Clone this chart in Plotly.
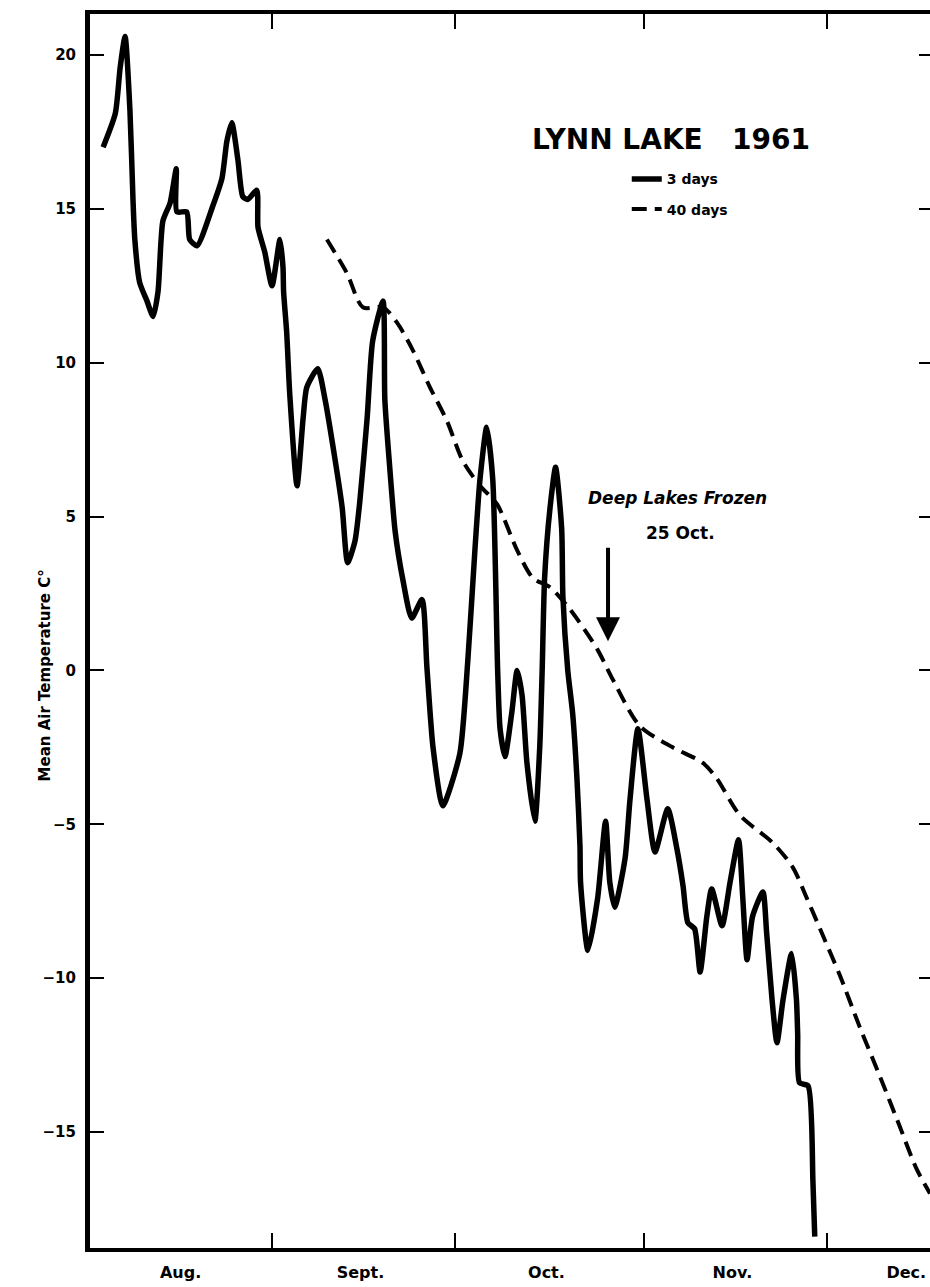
import plotly.graph_objects as go

# Days since 1 Aug 1961 (day 0 = Aug 1) and mean air temperature (deg C)
days_3 = [3.3, 5.3, 6.1, 6.9, 7.7, 8.2, 8.5, 9.3, 10.5, 11.5, 12.3, 13.1, 14.3, 15.3, 15.4,
          17.0, 17.5, 18.7, 21.3, 22.8, 23.6, 24.4, 25.4, 26.2, 27.0, 28.5, 28.7, 29.8, 31.0,
          32.3, 32.8, 32.9, 33.4, 33.9, 35.1, 36.1, 36.7, 38.5, 39.7, 41.3, 42.5, 43.4, 44.6,
          45.4, 46.6, 47.5, 49.2, 49.5, 50.3, 51.2, 52.5, 53.9, 55.6, 56.4, 57.4, 59.0, 61.8,
          63.1, 64.3, 65.1, 66.2, 67.2, 68.0, 68.4, 69.2, 70.3, 71.2, 72.0, 72.8, 74.1, 74.9,
          75.3, 75.7, 76.6, 77.5, 78.5, 78.7, 79.5, 80.3, 81.0, 81.5, 81.6, 82.8, 84.4, 85.7,
          86.4, 87.2, 88.9, 89.7, 91.0, 92.5, 93.8, 95.9, 97.4, 98.4, 99.2, 100.3, 101.2, 102.3,
          103.1, 104.8, 106.1, 107.5, 108.2, 108.9, 109.8, 111.5, 112.1, 113.0, 113.8, 114.8,
          116.2, 117.0, 117.2, 117.5, 118.9, 119.7, 120.0]
temp_3 = [17.0, 18.1, 19.6, 20.6, 18.2, 15.3, 14.0, 12.6, 12.0, 11.5, 12.3, 14.6, 15.2, 16.3, 14.9,
          14.9, 14.0, 13.8, 15.1, 16.0, 17.2, 17.8, 16.6, 15.4, 15.3, 15.6, 14.4, 13.6, 12.5,
          14.0, 13.1, 12.3, 11.0, 9.0, 6.0, 8.2, 9.2, 9.8, 8.8, 6.9, 5.3, 3.5, 4.2,
          5.5, 8.2, 10.7, 12.0, 8.8, 6.6, 4.5, 2.9, 1.7, 2.3, 0.1, -2.5, -4.4, -2.7,
          0.3, 4.0, 6.2, 7.9, 6.2, 0.0, -1.9, -2.8, -1.4, 0.0, -0.8, -3.0, -4.9, -2.5,
          0.0, 3.0, 5.3, 6.6, 4.6, 2.4, 0.0, -1.4, -3.5, -5.7, -6.9, -9.1, -7.4, -4.9,
          -6.9, -7.7, -6.1, -4.2, -1.9, -4.2, -5.9, -4.5, -5.8, -7.0, -8.2, -8.4, -9.8, -8.0,
          -7.1, -8.3, -6.9, -5.5, -7.4, -9.4, -8.0, -7.2, -8.5, -10.7, -12.1, -10.7,
          -9.2, -10.7, -11.8, -13.4, -13.5, -16.6, -18.4]

days_40 = [40.0, 43.3, 45.9, 49.2, 51.5, 54.1, 56.9, 59.7, 62.3, 65.1, 67.9, 71.2, 73.8, 76.6,
           79.8, 84.3, 86.9, 91.3, 96.7, 101.6, 103.9, 107.7, 113.1, 116.4, 118.7, 121.3,
           124.1, 127.4, 130.7, 133.9, 136.7, 138.9]
temp_40 = [14.0, 12.9, 11.8, 11.8, 11.3, 10.4, 9.2, 8.1, 6.8, 6.0, 5.4, 3.9, 3.0, 2.7,
           2.0, 0.7, -0.3, -1.8, -2.5, -3.0, -3.5, -4.7, -5.6, -6.4, -7.4, -8.6,
           -9.9, -11.6, -13.2, -14.8, -16.2, -17.0]

month_bounds = [31, 61, 92, 122]
month_mid = [16, 45.5, 76, 106.5, 135]
month_labels = ["Aug.", "Sept.", "Oct.", "Nov.", "Dec."]
y_ticks = [20, 15, 10, 5, 0, -5, -10, -15]
y_tick_labels = ["20", "15", "10", "5", "0", "\u22125", "\u221210", "\u221215"]

freeze_day = 86.1   # 25 Oct.
freeze_temp = 0.95

XR = [1.15, 138.9]
YR = [-18.77, 21.33]
FONT = "DejaVu Sans"

fig = go.Figure()
fig.add_trace(go.Scatter(x=days_3, y=temp_3, mode="lines", name="3 days",
                         legendgroup="a",
                         line=dict(color="black", width=5.5, shape="spline", smoothing=0.6)))
fig.add_trace(go.Scatter(x=days_40, y=temp_40, mode="lines", name="40 days",
                         legendgroup="b",
                         line=dict(color="black", width=4, dash="15px,8px",
                                   shape="spline", smoothing=0.8)))
# invisible traces carrying the month-label axis and the right-hand tick axis
fig.add_trace(go.Scatter(x=[XR[0]], y=[0], xaxis="x2", mode="markers",
                         marker=dict(opacity=0), showlegend=False, hoverinfo="skip"))
fig.add_trace(go.Scatter(x=[XR[0]], y=[0], yaxis="y2", mode="markers",
                         marker=dict(opacity=0), showlegend=False, hoverinfo="skip"))

fig.update_layout(
    width=930, height=1287,
    margin=dict(l=90, r=0, t=14, b=39),
    paper_bgcolor="white", plot_bgcolor="white",
    font=dict(family=FONT, color="black"),
    showlegend=True,
    legend=dict(x=0.639, y=0.879, xanchor="left", yanchor="top",
                bgcolor="rgba(0,0,0,0)", tracegroupgap=9,
                font=dict(size=14, family=FONT, weight="bold")),
    xaxis=dict(range=XR, tickvals=month_bounds, ticks="inside", ticklen=15, tickwidth=2,
               tickcolor="black", showticklabels=False, showline=True, linewidth=4,
               linecolor="black", mirror="ticks", showgrid=False, zeroline=False),
    xaxis2=dict(range=XR, overlaying="x", anchor="y", side="bottom",
                tickvals=month_mid, ticktext=month_labels, ticks="", showline=False,
                showgrid=False, zeroline=False, ticklabelstandoff=13,
                tickfont=dict(size=16, family=FONT, weight="bold")),
    yaxis=dict(range=YR, tickvals=y_ticks, ticktext=y_tick_labels, ticks="inside",
               ticklen=14, tickwidth=2, tickcolor="black", showline=True, linewidth=5,
               linecolor="black", showgrid=False, zeroline=False, ticklabelstandoff=6,
               tickfont=dict(size=15, family=FONT, weight="bold")),
    yaxis2=dict(range=YR, overlaying="y", side="right", anchor="x", tickvals=y_ticks,
                ticks="inside", ticklen=11, tickwidth=2, tickcolor="black",
                showticklabels=False, showline=False, showgrid=False, zeroline=False),
)

fig.add_annotation(x=-0.0536, y=0.464, xref="paper", yref="paper", showarrow=False,
                   textangle=-90, xanchor="center", yanchor="middle",
                   text="<b>Mean Air Temperature C\u00b0</b>",
                   font=dict(size=15, family=FONT, color="black"))
fig.add_annotation(x=0.692, y=0.898, xref="paper", yref="paper", showarrow=False,
                   xanchor="center", yanchor="middle",
                   text="<b>LYNN LAKE   1961</b>",
                   font=dict(size=28, family=FONT, color="black"))
fig.add_annotation(x=97.5, y=5.6, showarrow=False, xanchor="center",
                   text="<b><i>Deep Lakes Frozen</i></b>",
                   font=dict(size=17, family=FONT, color="black"))
fig.add_annotation(x=98.0, y=4.45, showarrow=False, xanchor="center",
                   text="<b>25 Oct.</b>",
                   font=dict(size=17, family=FONT, color="black"))
fig.add_annotation(x=freeze_day, y=freeze_temp, ax=0, ay=-95, text="", showarrow=True,
                   arrowhead=2, arrowsize=1.2, arrowwidth=4, arrowcolor="black")

fig.write_html("out.html",
               config={"displayModeBar": False},
               post_script="document.body.style.margin='0';"
                           "document.body.style.overflow='hidden';")
